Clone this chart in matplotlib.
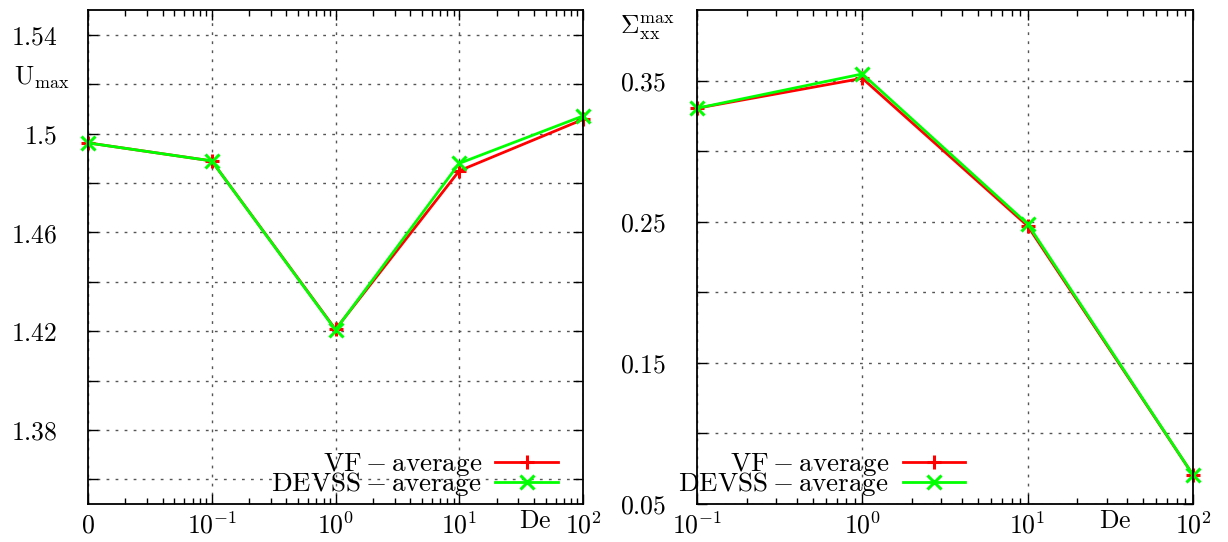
import matplotlib
matplotlib.use("Agg")
import matplotlib.pyplot as plt
from matplotlib.ticker import FixedLocator, FixedFormatter, LogLocator, NullFormatter

plt.rcParams['font.family'] = 'serif'
plt.rcParams['font.serif'] = ['DejaVu Serif']
plt.rcParams['mathtext.fontset'] = 'cm'

# left panel: U_max vs De ("0" drawn at 1e-2)
de_left = [0.01, 0.1, 1.0, 10.0, 100.0]
umax_vf = [1.4962, 1.4889, 1.4207, 1.4849, 1.5057]
umax_devss = [1.4962, 1.4889, 1.4205, 1.4879, 1.5071]
left_xticks = [0.01, 0.1, 1.0, 10.0, 100.0]
left_xlabels = ['$0$', '$10^{-1}$', '$10^{0}$', '$10^{1}$', '$10^{2}$']
left_yticks = [1.36, 1.38, 1.40, 1.42, 1.44, 1.46, 1.48, 1.50, 1.52, 1.54]
left_ylabels = ['', '$1.38$', '', '$1.42$', '', '$1.46$', '', '$1.5$', '', '$1.54$']

# right panel: Sigma_xx^max vs De
de_right = [0.1, 1.0, 10.0, 100.0]
sxx_vf = [0.3304, 0.3516, 0.2470, 0.0706]
sxx_devss = [0.3304, 0.3547, 0.2484, 0.0706]
right_xticks = [0.1, 1.0, 10.0, 100.0]
right_xlabels = ['$10^{-1}$', '$10^{0}$', '$10^{1}$', '$10^{2}$']
right_yticks = [0.05, 0.10, 0.15, 0.20, 0.25, 0.30, 0.35]
right_ylabels = ['$0.05$', '', '$0.15$', '', '$0.25$', '', '$0.35$']

W, H = 1228, 542
FS = 18.5
fig = plt.figure(figsize=(W / 100, H / 100), dpi=100)

def px_axes(x0, x1, y0, y1):
    return fig.add_axes([x0 / W, 1 - y1 / H, (x1 - x0) / W, (y1 - y0) / H])

ax1 = px_axes(88, 583, 10, 504)
ax2 = px_axes(697, 1193, 10, 504)

grid_kw = dict(color='#555555', linestyle=(0, (2, 4.5)), linewidth=1.0)

def style(ax, xt, xl, yt, yl, xlim, ylim):
    ax.set_xscale('log')
    ax.set_xlim(*xlim)
    ax.set_ylim(*ylim)
    ax.xaxis.set_major_locator(FixedLocator(xt))
    ax.xaxis.set_major_formatter(FixedFormatter(xl))
    ax.xaxis.set_minor_locator(LogLocator(base=10, subs=range(2, 10), numticks=20))
    ax.xaxis.set_minor_formatter(NullFormatter())
    ax.yaxis.set_major_locator(FixedLocator(yt))
    ax.yaxis.set_major_formatter(FixedFormatter(yl))
    ax.yaxis.set_minor_locator(FixedLocator([]))
    ax.tick_params(which='major', direction='in', length=7, width=1,
                   top=True, right=True, labelsize=FS)
    ax.tick_params(axis='x', which='major', pad=6)
    ax.tick_params(axis='y', which='major', pad=22)
    ax.tick_params(which='minor', direction='in', length=4, width=1,
                   top=True, right=True)
    ax.grid(True, which='major', **grid_kw)
    for s in ax.spines.values():
        s.set_linewidth(1.3)
    ax.set_axisbelow(True)

style(ax1, left_xticks, left_xlabels, left_yticks, left_ylabels, (0.01, 100), (1.35, 1.55))
style(ax2, right_xticks, right_xlabels, right_yticks, right_ylabels, (0.1, 100), (0.05, 0.40))

line_kw = dict(linewidth=2, markersize=10, markeredgewidth=2.2, clip_on=False)
ax1.plot(de_left, umax_vf, color='#ff0000', marker='+', label=r'$\mathrm{VF - average}$', **line_kw)
ax1.plot(de_left, umax_devss, color='#00ff00', marker='x', label=r'$\mathrm{DEVSS - average}$', **line_kw)
ax2.plot(de_right, sxx_vf, color='#ff0000', marker='+', label=r'$\mathrm{VF - average}$', **line_kw)
ax2.plot(de_right, sxx_devss, color='#00ff00', marker='x', label=r'$\mathrm{DEVSS - average}$', **line_kw)

leg_kw = dict(frameon=False, markerfirst=False, handlelength=2.3, handletextpad=0.5,
              labelspacing=-0.3, fontsize=19.5, borderaxespad=0, borderpad=0)
ax1.legend(loc='lower right', bbox_to_anchor=(0.949, 0.012), **leg_kw)
ax2.legend(loc='lower right', bbox_to_anchor=(0.540, 0.012), **leg_kw)

fig.text(14 / W, 1 - 78 / H, r'$\mathrm{U_{max}}$', fontsize=FS, va='center', ha='left')
fig.text(620 / W, 1 - 28 / H, r'$\Sigma_{\mathrm{xx}}^{\mathrm{max}}$', fontsize=FS, va='center', ha='left')
fig.text(535 / W, 1 - 521 / H, r'$\mathrm{De}$', fontsize=FS, va='center', ha='center')
fig.text(1115 / W, 1 - 521 / H, r'$\mathrm{De}$', fontsize=FS, va='center', ha='center')

fig.savefig('out.png', dpi=100)
